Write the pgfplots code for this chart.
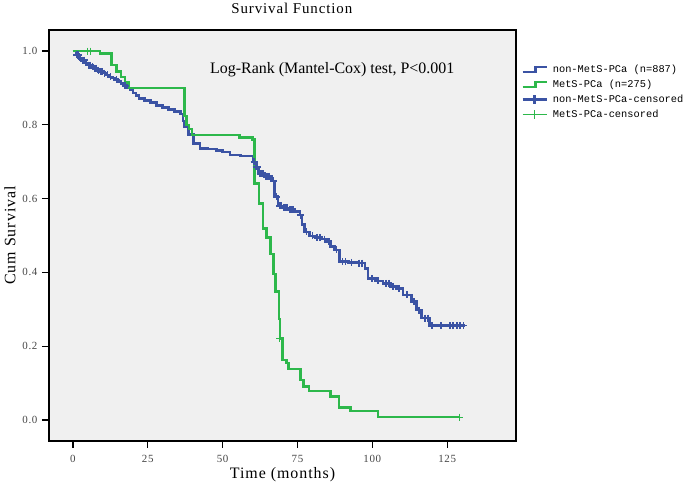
\documentclass[border=0pt]{standalone}
\usepackage{fontspec}
\setmainfont{Liberation Serif}
\newfontfamily\legfont{Liberation Mono}
\newfontfamily\widefont[LetterSpace=6]{Liberation Serif}
\usepackage{pgfplots}
\pgfplotsset{compat=1.18}
\definecolor{kmblue}{RGB}{59,83,164}
\definecolor{kmgreen}{RGB}{45,184,75}
\definecolor{bggray}{RGB}{240,240,240}
\definecolor{ticktext}{RGB}{70,70,70}
\begin{document}
\begin{tikzpicture}[x=1bp,y=1bp]
\useasboundingbox (0,0) rectangle (685,489);
\begin{axis}[
  at={(49bp,48bp)}, anchor=south west,
  scale only axis, width=467bp, height=411bp,
  xmin=-8, xmax=148, ymin=-0.057, ymax=1.057,
  axis background/.style={fill=bggray},
  axis line style={line width=1.3bp},
  xtick={0,25,50,75,100,125},
  ytick={0,0.2,0.4,0.6,0.8,1.0},
  yticklabel style={/pgf/number format/fixed,/pgf/number format/fixed zerofill,/pgf/number format/precision=1},
  /pgf/number format/assume math mode=true,
  tick label style={font=\fontsize{11}{13}\selectfont\widefont, text=ticktext},
  xticklabel style={yshift=-4bp},
  yticklabel style={xshift=-1bp},
  tick align=outside, tick pos=left,
  major tick length=7bp,
  every tick/.style={black, line width=1.3bp},
  xlabel={Time (months)},
  ylabel={Cum Survival},
  every axis x label/.style={at={(axis description cs:0.5,0)}, anchor=center, yshift=-34bp, font=\fontsize{16}{18}\selectfont\widefont},
  every axis y label/.style={at={(axis description cs:0,0.5)}, anchor=center, rotate=90, yshift=39bp, font=\fontsize{16}{18}\selectfont\widefont},
  legend style={draw=none, fill=none, at={(1.0086,0.925)}, anchor=north west,
    font=\fontsize{10.4}{12}\selectfont\legfont, row sep=2bp, inner xsep=1bp,
    nodes={inner xsep=5bp}},
  legend cell align=left,
  clip=false,
]
% non-MetS-PCa
\addplot[const plot, kmblue, line width=2.6bp,
  legend image code/.code={\draw[kmblue,line width=2.6bp] (0bp,-2.5bp) -- (13bp,-2.5bp) -- (13bp,2.5bp) -- (24bp,2.5bp);}]
coordinates {
(0,1) (1,0.99) (2,0.98) (3,0.975) (4,0.968) (5,0.962) (6,0.958) (7,0.953) (8,0.948) (9,0.944)
(10,0.94) (11,0.935) (12,0.93) (13,0.927) (14,0.922) (15,0.918) (16,0.912) (17,0.906) (18,0.9)
(19,0.894) (20,0.886) (21,0.879) (22,0.872) (24,0.866) (26,0.86) (28,0.853) (30,0.847) (32,0.842)
(34,0.836) (36,0.829) (36.7,0.81) (37.2,0.795) (38.5,0.774) (40.2,0.75) (42.4,0.736) (45,0.734)
(48,0.73) (50,0.726) (52.4,0.718) (56,0.715) (60.3,0.70) (60.6,0.686) (61.9,0.668) (64,0.66)
(66.3,0.648) (67.4,0.605) (68.5,0.58) (70,0.575) (72,0.57) (74,0.565) (75.8,0.555) (76.5,0.53)
(77.4,0.51) (79.1,0.499) (81,0.495) (83,0.49) (84.7,0.483) (86,0.47) (87.4,0.461) (89.1,0.429)
(92,0.427) (94.7,0.425) (97.5,0.411) (98.6,0.384) (101,0.377) (103.6,0.370) (106,0.362) (108,0.357)
(110.3,0.339) (113,0.321) (114.7,0.298) (116.4,0.276) (119.2,0.256) (130.8,0.256)
};
\addlegendentry{non-MetS-PCa (n=887)}
% MetS-PCa
\addplot[const plot, kmgreen, line width=2.6bp,
  legend image code/.code={\draw[kmgreen,line width=2.6bp] (0bp,-2.5bp) -- (13bp,-2.5bp) -- (13bp,2.5bp) -- (24bp,2.5bp);}]
coordinates {
(0,1) (9,0.994) (12.9,0.962) (14.6,0.944) (16,0.93) (17.4,0.914) (18.7,0.90) (37.2,0.824) (38,0.80)
(38.7,0.789) (39.8,0.772) (55.7,0.766) (60,0.76) (60.7,0.641) (62.1,0.587) (63.5,0.519) (64.6,0.495)
(66,0.45) (66.9,0.396) (67.7,0.348) (68.8,0.274) (69.1,0.22) (69.9,0.163) (71.3,0.154) (72.1,0.138)
(76,0.108) (77.1,0.09) (78.8,0.079) (86,0.063) (88.9,0.034) (92.7,0.024) (101.9,0.008) (129,0.008)
};
\addlegendentry{MetS-PCa (n=275)}
% non-MetS-PCa censored
\addplot[only marks, mark=+, mark size=3.5bp, kmblue, line width=1.7bp,
  legend image code/.code={\draw[kmblue,line width=2.6bp] (0bp,0bp) -- (24bp,0bp); \draw[kmblue,line width=2.6bp] (12bp,-4.5bp) -- (12bp,4.5bp);}]
coordinates {
(1.2,0.99) (1.8,0.99) (2.5,0.98) (3.2,0.975) (3.8,0.975) (4.5,0.968) (5.2,0.962) (5.8,0.962) (6.5,0.958)
(7.2,0.953) (7.8,0.953) (8.5,0.948) (9.2,0.944) (9.8,0.944) (10.5,0.94) (11.5,0.935) (12.5,0.93)
(14.5,0.922) (17.5,0.906) (60.5,0.70) (61.2,0.686) (61.6,0.686) (62.5,0.668) (63,0.668) (63.5,0.668)
(64.5,0.66) (65,0.66) (65.5,0.66) (67,0.648) (68,0.605) (69,0.58) (69.5,0.58) (70.5,0.575) (71,0.575)
(71.5,0.575) (72.5,0.57) (73,0.57) (73.5,0.57) (76,0.555) (78,0.51) (80,0.499) (81.5,0.495) (82.5,0.495)
(84,0.49) (85.5,0.483) (88,0.461) (90,0.429) (91,0.429) (93,0.427) (95.5,0.425) (96.5,0.425)
(100,0.384) (102,0.377) (104.5,0.370) (105.5,0.370) (107,0.362) (109,0.357) (111.5,0.339)
(114,0.321) (115.5,0.298) (117.5,0.276) (118.5,0.276) (120,0.256) (123,0.256) (126,0.256)
(127,0.256) (128.2,0.256) (129.3,0.256) (130.5,0.256)
};
\addlegendentry{non-MetS-PCa-censored}
% MetS-PCa censored
\addplot[only marks, mark=+, mark size=3.5bp, kmgreen, line width=1bp,
  legend image code/.code={\draw[kmgreen,line width=1bp] (0bp,0bp) -- (24bp,0bp); \draw[kmgreen,line width=1bp] (12bp,-4.5bp) -- (12bp,4.5bp);}]
coordinates {
(4.9,1) (5.8,1) (69.1,0.22) (129,0.008)
};
\addlegendentry{MetS-PCa-censored}
\node[font=\fontsize{16}{18}\selectfont] at (axis cs:86.6,0.949) {Log-Rank (Mantel-Cox) test, P<0.001};
\node[font=\fontsize{15}{17}\selectfont\widefont] at (axis description cs:0.52,1) [yshift=22bp] {Survival Function};
\end{axis}
\end{tikzpicture}
\end{document}
